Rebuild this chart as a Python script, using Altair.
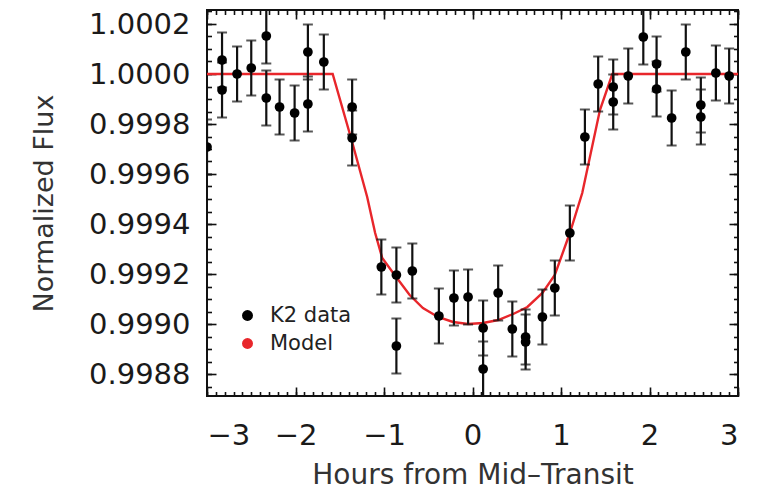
import altair as alt
import pandas as pd

# ---- data ----
hours = [-3.00, -2.83, -2.83, -2.66, -2.50, -2.33, -2.33, -2.18, -2.01, -1.86,
         -1.86, -1.68, -1.36, -1.36, -1.03, -0.86, -0.86, -0.68, -0.38, -0.21,
         -0.05, 0.12, 0.12, 0.29, 0.45, 0.60, 0.60, 0.79, 0.93, 1.10,
         1.27, 1.42, 1.59, 1.59, 1.76, 1.93, 2.08, 2.08, 2.25, 2.41,
         2.58, 2.58, 2.75, 2.90]
flux = [0.999708, 1.000056, 0.999936, 1.000000, 1.000024, 1.000152, 0.999904, 0.999868, 0.999844, 1.000088,
        0.999880, 1.000048, 0.999868, 0.999744, 0.999228, 0.999196, 0.998912, 0.999212, 0.999032, 0.999104,
        0.999108, 0.998984, 0.998820, 0.999124, 0.998980, 0.998948, 0.998928, 0.999028, 0.999144, 0.999364,
        0.999748, 0.999960, 0.999948, 0.999888, 0.999992, 1.000148, 1.000040, 0.999940, 0.999824, 1.000088,
        0.999876, 0.999828, 1.000004, 0.999992]
flux_err = [0.00011] * len(hours)

model_hours = [-3.00, -1.58, -1.36, -1.19, -1.10, -1.02, -0.88, -0.71, -0.56, -0.39,
               -0.22, -0.05, 0.12, 0.29, 0.46, 0.62, 0.79, 0.93, 1.10, 1.24,
               1.44, 1.58, 3.00]
model_flux = [1.0, 1.0, 0.999728, 0.999508, 0.999364, 0.999264, 0.999196, 0.999116, 0.999064, 0.999028,
              0.999008, 0.999000, 0.999004, 0.999016, 0.999040, 0.999068, 0.999124, 0.999196, 0.999364, 0.999524,
              0.999856, 1.0, 1.0]

series_names = ["K2 data", "Model"]
series_colors = ["#000000", "#e8262b"]

x_major = [-3, -2, -1, 0, 1, 2, 3]
y_major = [0.9988, 0.9990, 0.9992, 0.9994, 0.9996, 0.9998, 1.0000, 1.0002]
x_minor = [round(-3 + 0.1 * i, 1) for i in range(61)]
y_minor = [round(0.99875 + 0.00005 * i, 5) for i in range(31)]

df = pd.DataFrame({"h": hours, "f": flux, "e": flux_err})
df["lo"] = df["f"] - df["e"]
df["hi"] = df["f"] + df["e"]
df["series"] = "K2 data"
mdf = pd.DataFrame({"h": model_hours, "f": model_flux})

FONT = "DejaVu Sans"
xs = alt.Scale(domain=[-3, 3], nice=False, zero=False)
ys = alt.Scale(domain=[0.998712, 1.000256], nice=False, zero=False)


def tick_layer(ox, oy, xv, yv, size):
    common = dict(offset=-size, tickSize=size, labels=False, domain=False,
                  grid=False, ticks=True, tickColor="#111111", tickWidth=1.6)
    return alt.Chart(mdf).mark_line(opacity=0, clip=True).encode(
        x=alt.X("h:Q", scale=xs, title=None, axis=alt.Axis(orient=ox, values=xv, **common)),
        y=alt.Y("f:Q", scale=ys, title=None, axis=alt.Axis(orient=oy, values=yv, **common)),
    )


ticks = [
    tick_layer("bottom", "left", x_major, y_major, 9),
    tick_layer("bottom", "left", x_minor, y_minor, 4.5),
    tick_layer("top", "right", x_major, y_major, 9),
    tick_layer("top", "right", x_minor, y_minor, 4.5),
]

model = alt.Chart(mdf).mark_line(color=series_colors[1], strokeWidth=2.4, clip=True).encode(
    x=alt.X("h:Q", scale=xs, axis=None),
    y=alt.Y("f:Q", scale=ys, axis=None),
)

bars = alt.Chart(df).mark_rule(color="#111111", strokeWidth=2.2, clip=True).encode(
    x=alt.X("h:Q", scale=xs, axis=None),
    y=alt.Y("lo:Q", scale=ys, axis=None),
    y2="hi:Q",
)
cap_lo = alt.Chart(df).mark_tick(orient="horizontal", size=10, thickness=2, color="#111111", clip=True).encode(
    x=alt.X("h:Q", scale=xs, axis=None),
    y=alt.Y("lo:Q", scale=ys, axis=None),
)
cap_hi = alt.Chart(df).mark_tick(orient="horizontal", size=10, thickness=2, color="#111111", clip=True).encode(
    x=alt.X("h:Q", scale=xs, axis=None),
    y=alt.Y("hi:Q", scale=ys, axis=None),
)

points = alt.Chart(df).mark_circle(size=95, opacity=1, clip=True).encode(
    x=alt.X("h:Q", scale=xs, title="Hours from Mid–Transit",
            axis=alt.Axis(orient="bottom", values=x_major, format="d", ticks=False, domain=False, grid=False,
                          labelFont=FONT, labelFontSize=29, labelColor="#1a1a1a", labelPadding=25,
                          titleFont=FONT, titleFontSize=28, titleFontWeight="normal", titleColor="#333333",
                          titlePadding=11)),
    y=alt.Y("f:Q", scale=ys, title="Normalized Flux",
            axis=alt.Axis(orient="left", values=y_major, format=".4f", ticks=False, domain=False, grid=False,
                          labelFont=FONT, labelFontSize=29, labelColor="#1a1a1a", labelPadding=17,
                          titleFont=FONT, titleFontSize=27, titleFontWeight="normal", titleColor="#333333",
                          titlePadding=30)),
    color=alt.Color("series:N", scale=alt.Scale(domain=series_names, range=series_colors),
                    legend=alt.Legend(orient="none", legendX=30, legendY=295, title=None,
                                      symbolType="circle", symbolSize=120, symbolStrokeWidth=0,
                                      labelFont=FONT, labelFontSize=21, labelColor="#222222",
                                      rowPadding=6, labelOffset=12, padding=0)),
)

chart = alt.layer(*ticks, model, bars, cap_lo, cap_hi, points).resolve_axis(
    x="independent", y="independent"
).properties(
    width=531, height=386,
    autosize=alt.AutoSizeParams(type="none"),
    padding={"left": 207, "top": 10, "right": 26, "bottom": 96},
).configure_view(stroke="#111111", strokeWidth=2)

chart.save("out.html", embed_options={"renderer": "svg", "actions": False})
